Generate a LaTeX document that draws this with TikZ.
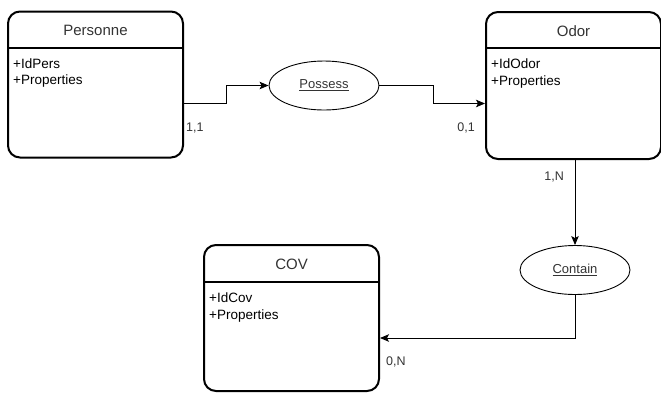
\documentclass[tikz,border=0pt]{standalone}
\usepackage{fontspec}
\setmainfont{Liberation Sans}
\usetikzlibrary{arrows.meta,calc,shapes.geometric}
\definecolor{ink}{HTML}{333333}
\tikzset{
  entity/.style={draw=black, line width=2pt, rounded corners=12pt, fill=white,
    minimum width=175pt, inner sep=0pt},
  relation/.style={draw=black, line width=0.9pt, ellipse, minimum width=110pt,
    minimum height=49pt, inner sep=0pt, font=\fontsize{13}{15}\selectfont, text=ink},
  header/.style={font=\fontsize{15}{17}\selectfont, text=ink},
  attrs/.style={font=\fontsize{13.5}{16.5}\selectfont, text=black, align=left,
    anchor=north west, inner sep=0pt},
  card/.style={font=\fontsize{12.5}{14}\selectfont, text=ink, inner sep=0pt},
  conn/.style={draw=black, line width=0.9pt, -{Stealth[length=9pt,width=7.5pt,inset=2pt]}},
}
\begin{document}
\begin{tikzpicture}[x=1pt, y=-1pt]
  \useasboundingbox (0,0) rectangle (661,392);

  % entities
  \node[entity, minimum height=146pt] (pers) at (95.5,84.5) {};
  \node[entity, minimum height=147pt] (odor) at (573.5,85.5) {};
  \node[entity, minimum height=146pt] (cov)  at (291.5,318) {};

  % header separators
  \draw[line width=2pt] ($(pers.north west)+(0,37)$) -- ($(pers.north east)+(0,37)$);
  \draw[line width=2pt] ($(odor.north west)+(0,37)$) -- ($(odor.north east)+(0,37)$);
  \draw[line width=2pt] ($(cov.north west)+(0,38)$) -- ($(cov.north east)+(0,38)$);

  % entity titles
  \node[header] (persT) at ($(pers.north)+(0,20)$) {Personne};
  \node[header] (odorT) at ($(odor.north)+(0,20)$) {Odor};
  \node[header] (covT)  at ($(cov.north)+(0,20)$) {COV};

  % attributes
  \node[attrs] (persA) at ($(pers.north west)+(6,48)$) {+IdPers\\+Properties};
  \node[attrs] (odorA) at ($(odor.north west)+(6,48)$) {+IdOdor\\+Properties};
  \node[attrs] (covA)  at ($(cov.north west)+(6,49)$) {+IdCov\\+Properties};

  % relationships
  \node[relation] (poss) at (324,85.5) {\underline{Possess}};
  \node[relation] (cont) at (575,270) {\underline{Contain}};

  % connectors
  \draw[conn] ($(pers.east)+(0,19)$) -- ++(42,0) |- (poss.west);
  \draw[conn] (poss.east) -- ++(54,0) |- ($(odor.west)+(0,18)$);
  \draw[conn] (odor.south -| cont.north) -- (cont.north);
  \draw[conn] (cont.south) |- ($(cov.east)+(0,20)$);

  % cardinalities
  \node[card, anchor=west] (c11) at (186,128) {1,1};
  \node[card, anchor=east] (c01) at (475,128) {0,1};
  \node[card, anchor=east] (c1n) at (564,177) {1,N};
  \node[card, anchor=west] (c0n) at (386,362) {0,N};
\end{tikzpicture}
\end{document}
